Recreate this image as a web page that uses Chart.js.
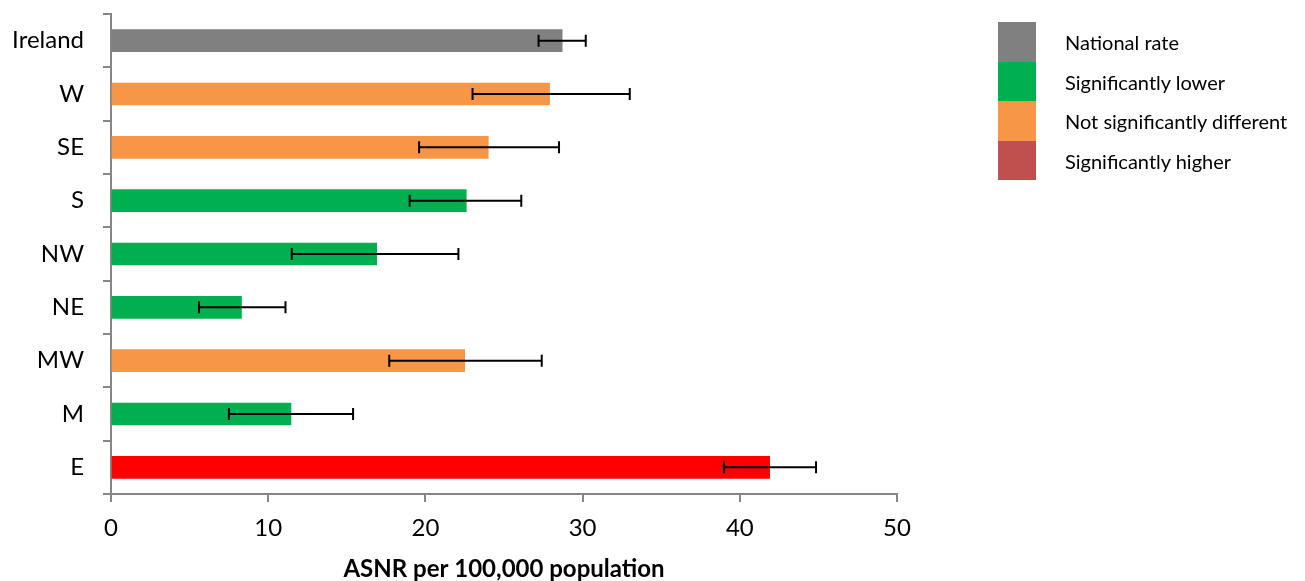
<!DOCTYPE html>
<html>
<head>
<meta charset="utf-8">
<script src="https://cdn.jsdelivr.net/npm/chart.js@4/dist/chart.umd.min.js"></script>
<style>
  body { margin: 0; background: #fff; }
  #wrap { position: relative; width: 1305px; height: 581px; }
  #legend { position: absolute; left: 998px; top: 22px; font-family: Lato, sans-serif; font-size: 20px; color: #000; }
  .item { position: relative; height: 39.5px; }
  .box { position: absolute; left: 0; top: 0; width: 38px; height: 39.5px; }
  .lbl { position: absolute; left: 67px; top: 0; line-height: 41px; white-space: nowrap; }
  canvas { display: block; }
</style>
</head>
<body>
<div id="wrap">
  <canvas id="myChart" width="1305" height="581"></canvas>
  <div id="legend"></div>
</div>
<script>
// regions, top to bottom
var regiones = ['Ireland', 'W', 'SE', 'S', 'NW', 'NE', 'MW', 'M', 'E'];
var tasas = [28.7, 27.9, 24.0, 22.6, 16.9, 8.3, 22.5, 11.45, 41.9];
var limiteInf = [27.2, 23.0, 19.6, 19.0, 11.5, 5.6, 17.7, 7.5, 39.0];
var limiteSup = [30.2, 33.0, 28.5, 26.1, 22.1, 11.1, 27.4, 15.4, 44.85];
var coloresBarra = ['#808080', '#F79646', '#F79646', '#00B050', '#00B050', '#00B050', '#F79646', '#00B050', '#FF0000'];

var leyendaTextos = ['National rate', 'Significantly lower', 'Not significantly different', 'Significantly higher'];
var leyendaColores = ['#808080', '#00B050', '#F79646', '#C0504D'];

var ejeColor = '#868686';
var fuente = 'Lato, sans-serif';

/* error bars on top of the bars */
const barrasError = {
    id: 'barrasError',
    afterDatasetsDraw(chart) {
        const ctx = chart.ctx;
        const xs = chart.scales.x;
        const ys = chart.scales.y;
        ctx.save();
        ctx.strokeStyle = '#000';
        ctx.lineWidth = 2;
        for (let i = 0; i < regiones.length; i++) {
            const y = ys.getPixelForValue(i);
            const x1 = xs.getPixelForValue(limiteInf[i]);
            const x2 = xs.getPixelForValue(limiteSup[i]);
            ctx.beginPath();
            ctx.moveTo(x1, y); ctx.lineTo(x2, y);
            ctx.moveTo(x1, y - 6); ctx.lineTo(x1, y + 6);
            ctx.moveTo(x2, y - 6); ctx.lineTo(x2, y + 6);
            ctx.stroke();
        }
        ctx.restore();
    }
};

const data = {
    labels: regiones,
    datasets: [{
        label: 'ASNR',
        data: tasas,
        backgroundColor: coloresBarra,
        borderWidth: 0,
        barThickness: 22
    }]
};

const config = {
    type: 'bar',
    data: data,
    options: {
        indexAxis: 'y',
        responsive: false,
        animation: false,
        layout: { padding: { top: 14, right: 408, bottom: 0, left: 0 } },
        plugins: {
            legend: { display: false },
            tooltip: { enabled: false }
        },
        scales: {
            x: {
                min: 0,
                max: 50,
                ticks: { stepSize: 10, color: '#000', font: { family: fuente, size: 24 }, padding: 12 },
                grid: { drawOnChartArea: false, drawTicks: true, tickLength: 8, color: ejeColor, lineWidth: 2 },
                border: { display: true, color: ejeColor, width: 2 },
                title: {
                    display: true,
                    text: 'ASNR per 100,000 population',
                    color: '#000',
                    font: { family: fuente, size: 24, weight: 'bold' },
                    padding: { top: 4, bottom: -3 }
                },
                afterFit: function (scale) { scale.height = 87; }
            },
            y: {
                ticks: { color: '#000', font: { family: fuente, size: 24 }, padding: 19 },
                grid: { drawOnChartArea: false, drawTicks: true, tickLength: 8, color: ejeColor, lineWidth: 2 },
                border: { display: true, color: ejeColor, width: 2 },
                afterFit: function (scale) {
                    scale.width = 111;
                    scale.paddingTop = 0;
                    scale.paddingBottom = 0;
                }
            }
        }
    },
    plugins: [barrasError]
};

const myChart = new Chart(document.getElementById('myChart'), config);

// legend
var leyenda = document.getElementById('legend');
for (let i = 0; i < leyendaTextos.length; i++) {
    var item = document.createElement('div');
    item.className = 'item';
    item.innerHTML = '<div class="box" style="background:' + leyendaColores[i] + '"></div><div class="lbl">' + leyendaTextos[i] + '</div>';
    leyenda.appendChild(item);
}
</script>
</body>
</html>
